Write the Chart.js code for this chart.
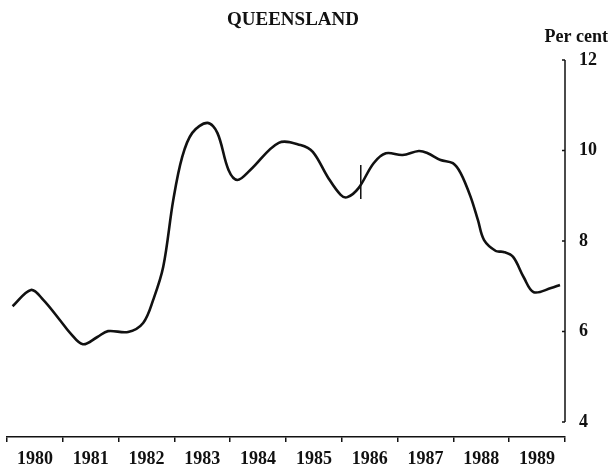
<!DOCTYPE html>
<html>
<head>
<meta charset="utf-8">
<title>Queensland</title>
<script src="https://cdn.jsdelivr.net/npm/chart.js@4.4.1/dist/chart.umd.min.js"></script>
<style>
  html, body { margin: 0; padding: 0; background: #fff; }
  #wrap { width: 610px; height: 472px; }
</style>
</head>
<body>
<div id="wrap"><canvas id="qld"></canvas></div>
<script>
// values (decimal year, per cent)
const years = [1980.10, 1980.43, 1980.65, 1980.95, 1981.13, 1981.36, 1981.62, 1981.81,
  1982.17, 1982.44, 1982.62, 1982.80, 1982.98, 1983.14, 1983.32, 1983.59, 1983.77,
  1983.97, 1984.13, 1984.36, 1984.87, 1985.26, 1985.48, 1985.75, 1985.98, 1986.10,
  1986.30, 1986.57, 1986.79, 1987.09, 1987.38, 1987.54, 1987.77, 1987.99, 1988.13,
  1988.31, 1988.44, 1988.55, 1988.76, 1988.90, 1989.07, 1989.26, 1989.44, 1989.75, 1989.91];
const rate = [6.56, 6.92, 6.70, 6.25, 5.97, 5.72, 5.88, 6.01,
  5.99, 6.19, 6.70, 7.43, 8.91, 9.86, 10.39, 10.61, 10.39,
  9.57, 9.35, 9.57, 10.17, 10.12, 9.97, 9.41, 9.02, 8.97,
  9.17, 9.72, 9.94, 9.90, 9.99, 9.94, 9.79, 9.72, 9.50,
  8.97, 8.46, 8.02, 7.78, 7.76, 7.65, 7.20, 6.87, 6.96, 7.03];
const breakYear = [1986.34, 1986.34];
const breakRate = [9.68, 8.93];
const yearLabels = ['1980', '1981', '1982', '1983', '1984', '1985', '1986', '1987', '1988', '1989'];
const yTicks = [4, 6, 8, 10, 12];

Chart.defaults.font.family = '"Liberation Serif", serif';
Chart.defaults.color = '#111';

// title, "Per cent" and the right-hand axis bar between 4 and 12
const decor = {
  id: 'decor',
  afterDraw(chart) {
    const ctx = chart.ctx, a = chart.chartArea, y = chart.scales.y;
    ctx.save();
    ctx.strokeStyle = '#111';
    ctx.lineWidth = 1.5;
    ctx.beginPath();
    ctx.moveTo(a.right, y.getPixelForValue(12));
    ctx.lineTo(a.right, y.getPixelForValue(4));
    yTicks.forEach(function(v) {
      ctx.moveTo(a.right - 3, y.getPixelForValue(v));
      ctx.lineTo(a.right, y.getPixelForValue(v));
    });
    ctx.stroke();
    ctx.fillStyle = '#111';
    ctx.textBaseline = 'middle';
    ctx.textAlign = 'center';
    ctx.font = 'bold 19px "Liberation Serif"';
    ctx.fillText('QUEENSLAND', (a.left + a.right) / 2 + 7, 20);
    ctx.textAlign = 'right';
    ctx.font = 'bold 18px "Liberation Serif"';
    ctx.fillText('Per cent', chart.width - 2, 37);
    ctx.restore();
  }
};

new Chart('qld', {
  type: 'line',
  data: {
    datasets: [
      {
        data: years.map(function(x, i) { return {x: x, y: rate[i]}; }),
        borderColor: '#111',
        borderWidth: 2.6,
        pointRadius: 0,
        tension: 0.35
      },
      {
        data: breakYear.map(function(x, i) { return {x: x, y: breakRate[i]}; }),
        borderColor: '#111',
        borderWidth: 1.5,
        pointRadius: 0
      }
    ]
  },
  options: {
    responsive: true,
    maintainAspectRatio: false,
    animation: false,
    layout: { padding: { top: 60, left: 7, right: 0, bottom: 0 } },
    plugins: {
      legend: { display: false },
      tooltip: { enabled: false }
    },
    scales: {
      x: {
        type: 'linear',
        min: 1980,
        max: 1990,
        afterBuildTicks: function(scale) {
          const t = [];
          for (let v = 1980; v <= 1990; v += 0.5) t.push({value: v});
          scale.ticks = t;
        },
        afterFit: function(scale) { scale.height = 35; },
        border: { display: true, color: '#111', width: 1.5 },
        grid: {
          drawOnChartArea: false,
          tickLength: 5,
          lineWidth: 1.5,
          color: function(c) { return c.tick && c.tick.value % 1 === 0 ? '#111' : 'rgba(0,0,0,0)'; }
        },
        ticks: {
          autoSkip: false,
          maxRotation: 0,
          padding: 7,
          font: { size: 18, weight: 'bold' },
          callback: function(v) { return v % 1 === 0.5 ? yearLabels[Math.floor(v) - 1980] : ''; }
        }
      },
      y: {
        position: 'right',
        min: 3.67,
        max: 12,
        afterBuildTicks: function(scale) {
          scale.ticks = yTicks.map(function(v) { return {value: v}; });
        },
        afterFit: function(scale) { scale.width = 45; },
        border: { display: false },
        grid: { display: false },
        ticks: {
          padding: 6,
          font: { size: 18, weight: 'bold' }
        }
      }
    }
  },
  plugins: [decor]
});
</script>
</body>
</html>
